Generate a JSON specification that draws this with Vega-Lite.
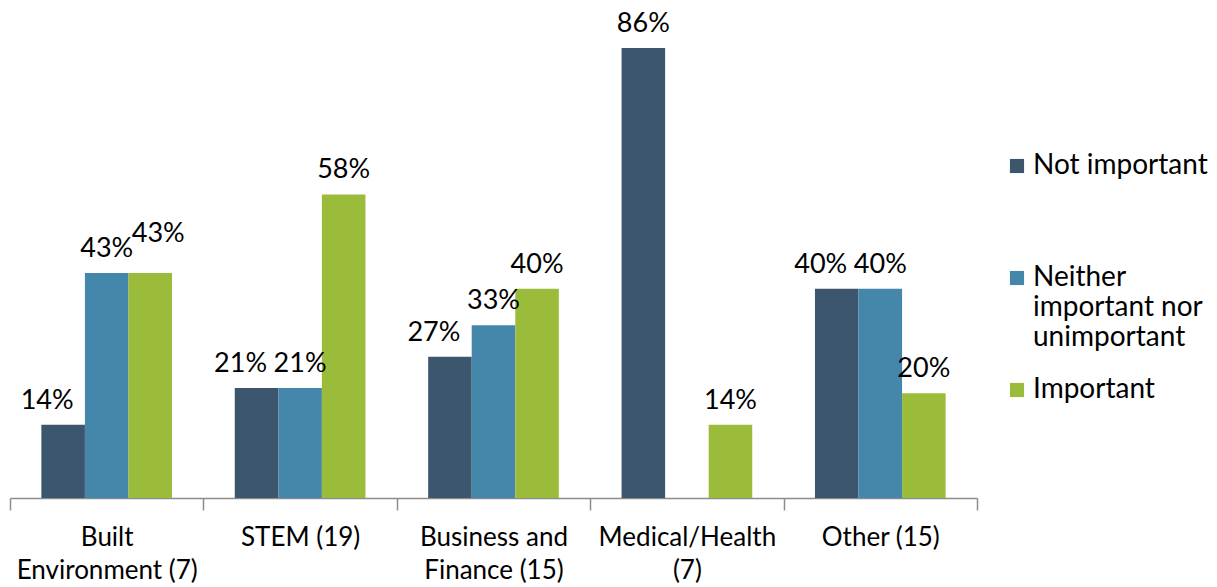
{
  "$schema": "https://vega.github.io/schema/vega-lite/v6.json",
  "width": 967,
  "height": 471,
  "autosize": {"type": "none"},
  "padding": {"left": 10, "top": 27, "right": 240, "bottom": 89},
  "background": "white",
  "config": {
    "view": {"stroke": null},
    "font": "Lato",
    "text": {"font": "Lato"}
  },
  "data": {
    "values": [
      {"category": "Built Environment (7)", "response": "Not important", "value": 0.14},
      {"category": "Built Environment (7)", "response": "Neither important nor unimportant", "value": 0.43},
      {"category": "Built Environment (7)", "response": "Important", "value": 0.43},
      {"category": "STEM (19)", "response": "Not important", "value": 0.21},
      {"category": "STEM (19)", "response": "Neither important nor unimportant", "value": 0.21},
      {"category": "STEM (19)", "response": "Important", "value": 0.58},
      {"category": "Business and Finance (15)", "response": "Not important", "value": 0.27},
      {"category": "Business and Finance (15)", "response": "Neither important nor unimportant", "value": 0.33},
      {"category": "Business and Finance (15)", "response": "Important", "value": 0.40},
      {"category": "Medical/Health (7)", "response": "Not important", "value": 0.86},
      {"category": "Medical/Health (7)", "response": "Important", "value": 0.14},
      {"category": "Other (15)", "response": "Not important", "value": 0.40},
      {"category": "Other (15)", "response": "Neither important nor unimportant", "value": 0.40},
      {"category": "Other (15)", "response": "Important", "value": 0.20}
    ]
  },
  "encoding": {
    "x": {
      "field": "category",
      "type": "nominal",
      "sort": ["Built Environment (7)", "STEM (19)", "Business and Finance (15)", "Medical/Health (7)", "Other (15)"],
      "scale": {"paddingInner": 0, "paddingOuter": 0},
      "axis": {
        "title": null,
        "labelAngle": 0,
        "labelFont": "Lato",
        "labelFontSize": 26,
        "labelColor": "#000000",
        "labelLineHeight": 33,
        "labelBaseline": "top",
        "labelPadding": 14,
        "labelLimit": 300,
        "labelExpr": "datum.label == 'Built Environment (7)' ? ['Built', 'Environment (7)'] : datum.label == 'Business and Finance (15)' ? ['Business and', 'Finance (15)'] : datum.label == 'Medical/Health (7)' ? ['Medical/Health', '(7)'] : datum.label",
        "tickBand": "extent",
        "tickSize": 12,
        "tickColor": "#8c8c8c",
        "tickWidth": 1.5,
        "domainColor": "#8c8c8c",
        "domainWidth": 1.5
      }
    },
    "xOffset": {
      "field": "response",
      "type": "nominal",
      "sort": ["Not important", "Neither important nor unimportant", "Important"],
      "scale": {"paddingInner": 0, "paddingOuter": 0.72}
    },
    "y": {
      "field": "value",
      "type": "quantitative",
      "scale": {"domain": [0, 0.9]},
      "axis": null
    }
  },
  "layer": [
    {
      "mark": {"type": "bar"},
      "encoding": {
        "color": {
          "field": "response",
          "type": "nominal",
          "scale": {
            "domain": ["Not important", "Neither important nor unimportant", "Important"],
            "range": ["#3c566e", "#4587ab", "#9bbb3b"]
          },
          "legend": {
            "title": null,
            "orient": "none",
            "legendX": 993,
            "legendY": 125,
            "padding": 0,
            "columns": 1,
            "gridAlign": "all",
            "symbolType": "square",
            "symbolSize": 200,
            "symbolStrokeWidth": 0,
            "symbolOpacity": 1,
            "labelFont": "Lato",
            "labelFontSize": 28,
            "labelColor": "#000000",
            "labelLineHeight": 34,
            "labelLimit": 300,
            "labelOffset": 2,
            "rowPadding": 24,
            "labelExpr": "datum.label == 'Neither important nor unimportant' ? ['Neither', 'important nor', 'unimportant'] : datum.label"
          }
        }
      }
    },
    {
      "transform": [{"filter": "datum.response == 'Not important' && datum.category != 'Medical/Health (7)'"}],
      "mark": {"type": "text", "baseline": "bottom", "dy": -10, "dx": -16, "fontSize": 27, "font": "Lato", "color": "#000000"},
      "encoding": {
        "text": {"field": "value", "type": "quantitative", "format": ".0%"}
      }
    },
    {
      "transform": [{"filter": "datum.response == 'Important' && datum.category == 'Built Environment (7)'"}],
      "mark": {"type": "text", "baseline": "bottom", "dy": -25, "dx": 8, "fontSize": 27, "font": "Lato", "color": "#000000"},
      "encoding": {
        "text": {"field": "value", "type": "quantitative", "format": ".0%"}
      }
    },
    {
      "transform": [{"filter": "(datum.response != 'Not important' || datum.category == 'Medical/Health (7)') && !(datum.response == 'Important' && datum.category == 'Built Environment (7)')"}],
      "mark": {"type": "text", "baseline": "bottom", "dy": -10, "fontSize": 27, "font": "Lato", "color": "#000000"},
      "encoding": {
        "text": {"field": "value", "type": "quantitative", "format": ".0%"}
      }
    }
  ]
}
